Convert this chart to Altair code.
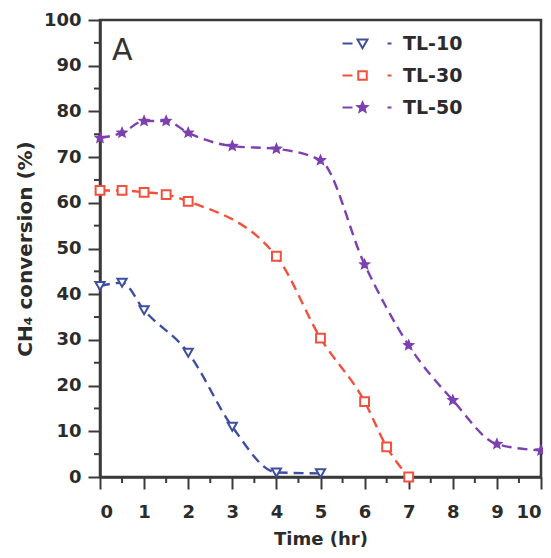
import math
import altair as alt
import pandas as pd

series_names = ["TL-10", "TL-30", "TL-50"]

tl10_t = [0, 0.5, 1, 2, 3, 4, 5]
tl10_v = [41.8, 42.5, 36.5, 27.2, 11.0, 1.0, 0.8]

tl30_t = [0, 0.5, 1, 1.5, 2, 4, 5, 6, 6.5, 7]
tl30_v = [62.7, 62.7, 62.3, 61.8, 60.3, 48.3, 30.4, 16.5, 6.6, 0.0]

tl50_t = [0, 0.5, 1, 1.5, 2, 3, 4, 5, 6, 7, 8, 9, 10]
tl50_v = [74.2, 75.3, 77.9, 77.9, 75.3, 72.4, 71.8, 69.3, 46.5, 28.8, 16.8, 7.2, 5.8]

x_major = list(range(0, 11))
x_minor = [k + 0.5 for k in range(10)]
y_major = list(range(0, 101, 10))
y_minor = [k * 10 + 5 for k in range(10)]

colors = ["#3f4fa0", "#f0503c", "#7d40b0"]
fills = ["#ffffff", "#ffffff", "#7d40b0"]
TEXT = "#2b2b2b"
FRAME = "#3a3a3a"
FONT = "DejaVu Sans"
W, H = 441, 457
MINOR_LEN = 6


def star_path(r_out=1.0, r_in=0.45):
    pts = []
    for k in range(10):
        ang = math.radians(-90 + 36 * k)
        r = r_out if k % 2 == 0 else r_in
        pts.append(f"{r * math.cos(ang):.3f},{r * math.sin(ang):.3f}")
    return "M" + "L".join(pts) + "Z"


STAR = star_path()
TRI_DOWN = "M-1,-0.8L1,-0.8L0,0.95Z"
SQUARE = "M-0.85,-0.85H0.85V0.85H-0.85Z"
LEFT_DASH = "M-4,0H-2"
RIGHT_DASH = "M5,0H5.8"
legend_shapes = [LEFT_DASH + s + RIGHT_DASH for s in (TRI_DOWN, SQUARE, STAR)]

rows = []
for name, ts, vs in zip(series_names, (tl10_t, tl30_t, tl50_t), (tl10_v, tl30_v, tl50_v)):
    for t, v in zip(ts, vs):
        rows.append({"series": name, "t": t, "v": v})
df = pd.DataFrame(rows)

x_scale = alt.Scale(domain=[0, 10], nice=False, zero=False)
y_scale = alt.Scale(domain=[0, 100], nice=False)

x_axis = alt.Axis(values=x_major, title="Time (hr)", grid=False, format="d", tickSize=12,
                  labelPadding=14, titlePadding=9, titleFontSize=18)
y_axis = alt.Axis(values=y_major, title="CH₄ conversion (%)", grid=False, format="d", tickSize=12,
                  labelPadding=7, titlePadding=8, titleFontSize=20)

X = alt.X("t:Q", scale=x_scale, axis=x_axis, title="Time (hr)")
Y = alt.Y("v:Q", scale=y_scale, axis=y_axis, title="CH₄ conversion (%)")

base = alt.Chart(df)

lines = base.mark_line(interpolate="monotone", strokeDash=[10, 6], strokeWidth=2.4).encode(
    x=X, y=Y,
    color=alt.Color("series:N", scale=alt.Scale(domain=series_names, range=colors), legend=None),
)

points = base.mark_point(filled=True, strokeWidth=2, opacity=1).encode(
    x=X, y=Y,
    shape=alt.Shape("series:N", scale=alt.Scale(domain=series_names,
                    range=["triangle-down", "square", STAR]), legend=None),
    stroke=alt.Stroke("series:N", scale=alt.Scale(domain=series_names, range=colors), legend=None),
    fill=alt.Fill("series:N", scale=alt.Scale(domain=series_names, range=fills), legend=None),
    size=alt.Size("series:N", scale=alt.Scale(domain=series_names, range=[85, 70, 150]), legend=None),
)

# minor ticks (outside the plot, below x axis and left of y axis)
minor_x = alt.Chart(pd.DataFrame({"t": x_minor})).mark_rule(color=FRAME, strokeWidth=2).encode(
    x=X, y=alt.value(H), y2=alt.value(H + MINOR_LEN),
)
minor_y = alt.Chart(pd.DataFrame({"v": y_minor})).mark_rule(color=FRAME, strokeWidth=2).encode(
    y=Y, x=alt.value(0), x2=alt.value(-MINOR_LEN),
)

leg = alt.Legend(title=None, orient="none", legendX=253, legendY=14, symbolSize=100,
                 symbolStrokeWidth=2, symbolOpacity=1, labelFont=FONT, labelFontWeight="bold",
                 labelFontSize=19, labelColor=TEXT, labelOffset=31, rowPadding=12)

legend_layer = base.mark_point(filled=True, clip=True, strokeWidth=2, opacity=1).encode(
    x=alt.value(-300),
    y=alt.value(-300),
    shape=alt.Shape("series:N", scale=alt.Scale(domain=series_names, range=legend_shapes), legend=leg),
    stroke=alt.Stroke("series:N", scale=alt.Scale(domain=series_names, range=colors), legend=leg),
    fill=alt.Fill("series:N", scale=alt.Scale(domain=series_names, range=fills), legend=leg),
)

panel_label = alt.Chart(pd.DataFrame({"label": ["A"]})).mark_text(
    align="left", baseline="alphabetic", fontSize=30, font=FONT, color="#333333"
).encode(x=alt.value(12), y=alt.value(40), text="label:N")

chart = alt.layer(lines, points, minor_x, minor_y, legend_layer, panel_label).resolve_scale(
    shape="independent", stroke="independent", fill="independent",
    color="independent", size="independent"
).properties(
    width=W, height=H,
    padding={"left": 92, "top": 12, "right": 2, "bottom": 73},
    autosize=alt.AutoSizeParams(type="none"),
).configure_view(
    stroke=FRAME, strokeWidth=2.5
).configure_axis(
    domainColor=FRAME, domainWidth=2.5, tickColor=FRAME, tickWidth=2,
    labelFont=FONT, labelFontWeight="bold", labelFontSize=18, labelColor=TEXT,
    titleFont=FONT, titleFontWeight="bold", titleColor=TEXT,
)

chart.save("out.html", embed_options={"renderer": "svg", "actions": False})
